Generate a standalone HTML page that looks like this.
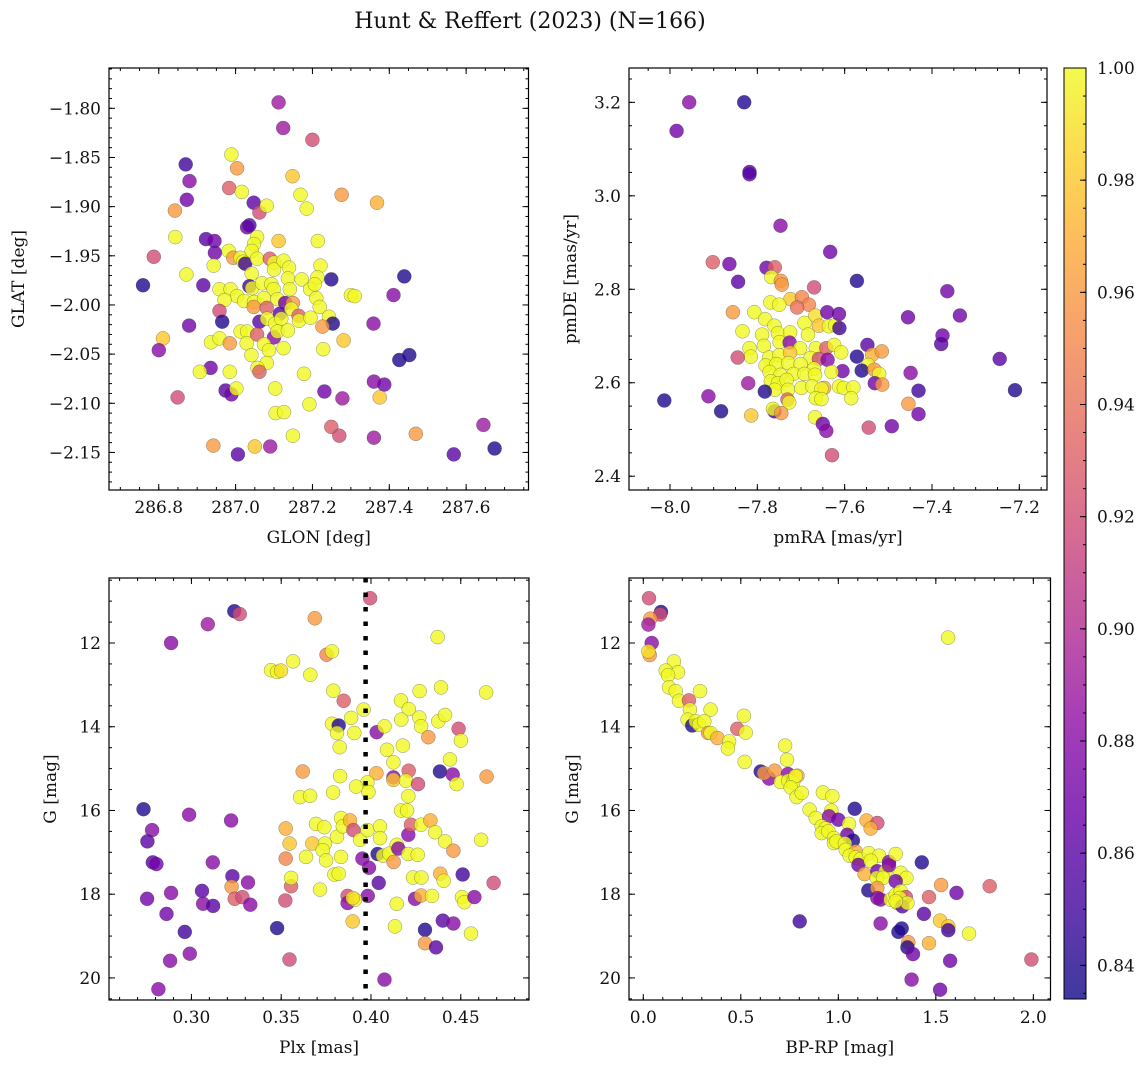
<!DOCTYPE html>
<html><head><meta charset="utf-8">
<style>
html,body{margin:0;padding:0;background:#fff;}
svg{display:block;font-family:"DejaVu Serif","Liberation Serif",serif;}
</style></head>
<body>
<svg id="fig" width="1148" height="1067" viewBox="0 0 1148 1067" xmlns="http://www.w3.org/2000/svg">
<text x="530" y="28" font-size="22" text-anchor="middle" fill="#111">Hunt &amp; Reffert (2023) (N=166)</text>
</svg>
<script>
// ---------- data ----------
const glon = [287.112,287.124,287.200,286.870,286.880,286.873,286.842,286.989,287.004,286.983,287.016,287.047,287.062,287.081,287.148,287.169,287.185,287.276,287.368,287.030,287.036,286.843,286.923,286.945,286.946,286.787,286.759,286.872,286.916,286.943,287.056,287.048,287.112,287.214,286.982,286.994,287.013,287.020,287.025,287.042,287.056,287.089,287.100,287.100,287.125,287.139,287.221,287.042,287.136,287.172,287.213,287.249,287.439,287.036,287.043,287.069,287.093,287.099,287.141,287.194,287.206,286.958,286.987,287.004,286.971,287.022,287.048,287.074,287.109,287.129,287.149,287.210,287.300,287.310,287.411,287.047,287.081,287.115,287.145,287.164,287.219,286.958,286.965,287.062,287.082,287.103,287.119,287.165,287.195,287.243,287.253,287.226,287.359,286.879,287.013,287.030,287.056,287.100,287.109,287.136,286.811,286.800,286.936,286.958,286.985,287.029,287.074,287.087,287.125,287.041,287.228,287.281,287.426,287.452,287.081,287.057,287.062,286.935,286.907,286.985,287.178,287.360,287.387,286.974,286.989,287.002,286.849,287.103,287.231,287.278,287.192,287.375,287.104,287.126,287.149,287.249,287.270,287.360,287.469,287.645,287.674,287.568,286.942,287.050,287.090,287.006];
const glat = [-1.794,-1.820,-1.832,-1.857,-1.874,-1.893,-1.904,-1.847,-1.861,-1.881,-1.885,-1.896,-1.906,-1.899,-1.869,-1.888,-1.902,-1.888,-1.896,-1.921,-1.919,-1.931,-1.933,-1.935,-1.947,-1.951,-1.980,-1.969,-1.980,-1.960,-1.931,-1.938,-1.935,-1.935,-1.945,-1.952,-1.952,-1.956,-1.958,-1.945,-1.953,-1.953,-1.957,-1.964,-1.955,-1.962,-1.960,-1.968,-1.973,-1.974,-1.972,-1.974,-1.971,-1.981,-1.983,-1.978,-1.979,-1.984,-1.984,-1.984,-1.979,-1.984,-1.984,-1.991,-1.995,-1.996,-1.997,-1.993,-1.994,-1.998,-1.998,-1.993,-1.990,-1.991,-1.990,-2.002,-2.003,-2.009,-2.004,-2.011,-2.002,-2.006,-2.017,-2.017,-2.014,-2.019,-2.014,-2.016,-2.013,-2.012,-2.019,-2.022,-2.019,-2.021,-2.027,-2.027,-2.030,-2.033,-2.027,-2.026,-2.034,-2.046,-2.038,-2.034,-2.039,-2.039,-2.040,-2.046,-2.044,-2.051,-2.045,-2.036,-2.056,-2.051,-2.059,-2.064,-2.068,-2.064,-2.068,-2.068,-2.070,-2.078,-2.081,-2.087,-2.091,-2.085,-2.094,-2.085,-2.088,-2.095,-2.101,-2.094,-2.110,-2.109,-2.133,-2.124,-2.133,-2.135,-2.131,-2.122,-2.146,-2.152,-2.143,-2.144,-2.144,-2.152];
const prob1 = [.89,.89,.92,.85,.88,.87,.96,1,.96,.93,1,.86,.92,1,.98,1,1,.96,.97,.87,.86,1,.86,.87,.87,.92,.84,1,.86,1,1,1,.98,1,1,.96,1,1,.85,1,1,.93,1,1,1,1,1,1,1,1,1,.84,.84,.85,1,1,1,1,1,1,1,1,1,1,1,1,1,1,1,.87,.96,1,1,1,.88,.96,.93,.86,1,.93,1,.92,.84,.86,1,1,1,1,1,1,.84,.96,.88,.87,1,1,.93,.88,1,1,.98,.88,1,1,.96,1,1,1,1,1,1,.98,.84,.84,1,1,.93,.87,1,1,1,.88,.87,.86,.87,1,.92,1,.87,.89,1,.98,1,1,1,.93,.92,.89,.96,.89,.84,.86,.96,.98,.89,.86];

const pmra = [-7.956,-7.830,-7.985,-7.818,-7.818,-7.747,-7.633,-7.902,-7.864,-7.844,-7.779,-7.760,-7.768,-7.746,-7.744,-7.670,-7.572,-7.365,-7.336,-7.455,-7.376,-7.379,-7.245,-7.210,-7.724,-7.698,-7.682,-7.709,-7.770,-7.750,-7.856,-7.807,-7.782,-7.761,-7.753,-7.725,-7.692,-7.667,-7.659,-7.636,-7.622,-7.640,-7.613,-7.612,-7.834,-7.789,-7.684,-7.785,-7.749,-7.726,-7.702,-7.666,-7.642,-7.624,-7.608,-7.548,-7.537,-7.515,-7.572,-7.818,-7.815,-7.845,-7.773,-7.750,-7.725,-7.678,-7.659,-7.639,-7.781,-7.756,-7.729,-7.701,-7.670,-7.546,-7.561,-7.532,-7.605,-7.630,-7.521,-7.772,-7.747,-7.717,-7.692,-7.668,-7.449,-7.769,-7.753,-7.733,-7.821,-7.760,-7.730,-7.699,-7.674,-7.647,-7.653,-7.613,-7.602,-7.580,-7.531,-7.514,-7.783,-7.431,-7.666,-7.653,-7.585,-7.731,-7.727,-7.912,-8.013,-7.883,-7.814,-7.761,-7.764,-7.745,-7.454,-7.431,-7.668,-7.650,-7.642,-7.545,-7.492,-7.629];
const pmde = [3.200,3.200,3.139,3.051,3.046,2.936,2.880,2.858,2.854,2.816,2.846,2.847,2.826,2.818,2.810,2.804,2.818,2.796,2.744,2.740,2.701,2.683,2.651,2.584,2.779,2.783,2.767,2.761,2.772,2.767,2.751,2.751,2.736,2.722,2.706,2.708,2.728,2.744,2.722,2.721,2.723,2.751,2.747,2.717,2.710,2.703,2.703,2.679,2.687,2.686,2.674,2.674,2.674,2.681,2.665,2.681,2.660,2.667,2.656,2.674,2.656,2.654,2.654,2.659,2.664,2.653,2.651,2.649,2.637,2.640,2.642,2.640,2.630,2.638,2.626,2.628,2.625,2.623,2.619,2.623,2.617,2.619,2.619,2.617,2.621,2.603,2.599,2.606,2.599,2.585,2.585,2.589,2.592,2.589,2.587,2.592,2.589,2.590,2.599,2.596,2.581,2.583,2.567,2.565,2.567,2.564,2.558,2.571,2.562,2.539,2.530,2.539,2.544,2.535,2.555,2.533,2.526,2.512,2.497,2.504,2.507,2.445];
const prob2 = [.88,.84,.87,.86,.86,.88,.87,.93,.87,.86,.87,.93,1,.96,.96,.92,.84,.87,.87,.87,.87,.86,.86,.84,.98,.95,.95,.94,1,1,.96,1,1,1,1,1,1,.99,.98,1,1,.87,.87,.85,1,1,1,1,1,.88,1,1,.93,1,1,.86,.97,.96,.84,1,1,.92,1,1,.98,1,.92,.88,1,1,1,1,1,1,.84,.96,.87,1,1,1,1,1,1,1,.88,1,1,1,.89,1,1,1,1,.97,1,1,1,1,.87,.96,.84,.85,1,1,1,.93,1,.88,.84,.84,.98,.85,1,.96,.96,.87,1,.87,.88,.92,.87,.92];

const plx = [0.3995,0.3239,0.3269,0.3091,0.2887,0.3687,0.3753,0.3783,0.3443,0.3477,0.3499,0.3566,0.3662,0.4371,0.3790,0.3848,0.3959,0.4390,0.4271,0.4641,0.4167,0.4210,0.4169,0.4269,0.4279,0.4375,0.4412,0.4488,0.4501,0.4319,0.3783,0.3820,0.3811,0.3889,0.3907,0.4032,0.4075,0.3826,0.4089,0.4177,0.4125,0.4440,0.3620,0.4030,0.4210,0.4384,0.4455,0.4644,0.4125,0.4125,0.4195,0.4262,0.4477,0.3828,0.3980,0.3917,0.3986,0.3789,0.3605,0.3661,0.4208,0.4167,0.4201,0.2733,0.2987,0.3221,0.2781,0.2755,0.2785,0.2805,0.3119,0.2753,0.2887,0.2861,0.2963,0.2991,0.2881,0.2816,0.3059,0.3065,0.3121,0.3228,0.3224,0.3241,0.3284,0.3315,0.3328,0.3477,0.3523,0.3546,0.3555,0.3555,0.3525,0.3547,0.3525,0.3638,0.3674,0.3694,0.3740,0.3744,0.3731,0.3750,0.3796,0.3820,0.3716,0.3811,0.3833,0.3843,0.3883,0.3902,0.3939,0.3833,0.3952,0.3989,0.3980,0.4050,0.4050,0.4037,0.4067,0.4102,0.4143,0.4152,0.4126,0.4208,0.4260,0.4208,0.4223,0.4279,0.4331,0.4357,0.4412,0.4459,0.4613,0.4386,0.4405,0.4511,0.4683,0.4234,0.4281,0.4043,0.3982,0.3870,0.3870,0.3911,0.3898,0.4143,0.4245,0.4279,0.4340,0.4507,0.4520,0.4576,0.3898,0.4134,0.4301,0.4400,0.4459,0.4301,0.4362,0.4557,0.4075];
const gmag3 = [10.93,11.24,11.31,11.55,12.00,11.41,12.28,12.20,12.65,12.69,12.66,12.44,12.76,11.86,13.14,13.38,13.59,13.06,13.15,13.18,13.37,13.58,13.83,13.78,13.99,13.87,13.72,14.05,14.33,14.25,13.93,13.97,14.15,13.79,14.15,14.13,13.99,14.49,14.55,14.45,14.85,14.78,15.07,15.11,15.05,15.07,15.14,15.19,15.21,15.27,15.29,15.37,15.37,15.18,15.33,15.43,15.56,15.57,15.68,15.65,15.66,16.00,16.00,15.97,16.10,16.24,16.47,16.74,17.24,17.28,17.24,18.11,17.97,18.47,18.90,19.42,19.59,20.27,17.92,18.23,18.28,17.57,17.82,18.11,18.07,17.72,18.25,18.81,18.15,19.56,17.81,17.61,16.43,16.79,17.15,17.11,16.79,16.32,16.40,16.79,16.95,17.19,17.53,17.51,17.89,16.63,16.18,16.38,16.24,16.47,16.70,17.11,17.15,17.37,16.47,16.38,16.66,17.04,17.08,17.03,16.82,16.91,17.23,17.04,17.06,16.58,16.34,16.34,16.24,16.52,16.74,16.96,16.70,17.51,17.68,17.53,17.73,17.60,17.60,17.73,18.04,18.04,18.21,18.13,18.09,18.23,18.11,18.03,18.04,18.07,18.19,18.07,18.65,18.77,18.85,18.63,18.70,19.17,19.27,18.94,20.04];
const prob3 = [.92,.84,.92,.89,.88,.96,.95,1,1,1,.99,1,1,1,1,.93,1,1,1,1,1,1,1,1,1,1,1,.92,1,.96,1,.84,1,1,1,.88,1,1,1,1,1,1,.96,.97,.93,.84,.88,.96,.88,.98,1,.92,1,1,1,1,1,1,1,1,1,1,1,.84,.88,.88,.88,.86,.86,.87,.88,.87,.88,.87,.85,.88,.88,.88,.86,.88,.86,.86,.96,.93,.92,.88,.88,.84,.92,.92,.93,1,.97,.98,.95,1,.98,1,1,1,1,1,1,1,1,1,1,1,.97,.92,1,1,.88,.88,1,1,1,.84,1,1,1,.88,.96,1,1,.88,.93,1,.97,1,1,.96,1,.97,1,.85,.92,1,1,.86,.88,.92,.88,1,.99,1,.88,.97,1,1,1,.88,.98,1,.84,.86,.88,.96,.86,1,.88];
const plxCut = [0.397];

const bprp = [0.029,0.091,0.086,0.036,0.026,0.043,0.033,0.026,0.157,0.115,0.178,0.127,0.132,0.166,0.183,0.291,0.234,0.239,0.345,0.516,0.227,0.251,0.269,0.286,0.313,0.333,0.345,0.380,0.440,0.434,0.482,0.525,0.520,0.727,0.737,0.602,0.645,0.619,0.674,0.742,0.790,0.705,0.744,0.768,0.781,0.756,0.786,0.812,0.921,0.969,0.853,1.084,0.884,0.964,0.952,1.000,1.145,1.200,1.166,1.055,0.915,0.935,0.915,0.949,1.046,1.075,0.978,0.978,0.990,1.034,1.038,1.089,1.058,1.089,1.115,1.103,1.157,1.209,1.260,1.294,1.166,1.428,1.135,1.200,1.243,1.260,1.197,1.229,1.320,1.349,1.294,1.154,1.200,1.200,1.217,1.268,1.294,1.320,1.346,1.315,1.303,1.328,1.354,1.294,1.465,1.527,1.606,1.776,1.439,0.802,1.217,1.522,1.564,1.564,1.670,1.325,1.308,1.359,1.354,1.383,1.465,1.573,1.990,1.376,1.522,1.563];
const gmag4 = [10.93,11.26,11.32,11.42,11.56,12.00,12.29,12.20,12.44,12.66,12.70,12.77,13.06,13.15,13.38,13.15,13.37,13.59,13.59,13.74,13.83,13.97,13.87,13.95,13.87,14.15,14.15,14.27,14.35,14.52,14.05,14.14,14.84,14.45,14.79,15.07,15.24,15.11,15.05,15.13,15.17,15.32,15.29,15.34,15.18,15.45,15.68,15.58,15.57,15.66,15.98,15.96,16.18,16.00,16.14,16.22,16.24,16.30,16.43,16.32,16.38,16.43,16.54,16.50,16.58,16.72,16.66,16.78,16.74,16.79,16.94,16.98,17.08,17.12,17.16,17.30,17.02,17.08,17.23,17.04,17.20,17.24,17.52,17.45,17.45,17.31,17.61,17.61,17.49,17.61,17.69,17.91,17.85,18.09,18.13,18.13,18.01,17.93,18.07,18.09,18.21,18.29,18.21,18.17,18.07,17.78,17.97,17.81,18.47,18.65,18.70,18.63,18.77,18.86,18.94,18.82,18.90,19.15,19.27,19.43,19.17,19.59,19.56,20.04,20.28,11.87];
const prob4 = [.92,.84,.92,.96,.89,.88,.96,.99,1,1,1,1,1,1,1,1,.93,1,1,1,1,.84,1,1,1,.96,1,.97,1,1,.93,1,1,1,1,.84,.88,.96,.96,.88,.97,1,1,1,1,1,1,1,1,1,1,.84,1,1,.88,.87,.97,.92,.97,1,1,1,1,1,.87,.84,1,1,1,1,1,.97,1,1,1,.87,1,1,.88,1,1,.84,.97,.87,1,.88,1,1,1,1,.87,.84,.96,.88,.88,1,1,1,.92,1,1,.86,1,1,.93,.96,.87,.93,.86,.85,.88,.98,.98,.85,1,.84,.84,.96,.84,.87,.97,.87,.92,.88,.87,1];

// tick values
const glonTicks = [286.8,287.0,287.2,287.4,287.6];
const glatTicks = [-1.80,-1.85,-1.90,-1.95,-2.00,-2.05,-2.10,-2.15];
const pmraTicks = [-8.0,-7.8,-7.6,-7.4,-7.2];
const pmdeTicks = [2.4,2.6,2.8,3.0,3.2];
const plxTicks = [0.30,0.35,0.40,0.45];
const gTicks = [12,14,16,18,20];
const bprpTicks = [0.0,0.5,1.0,1.5,2.0];
const cbarTicks = [0.84,0.86,0.88,0.90,0.92,0.94,0.96,0.98,1.00];

// ---------- drawing ----------
const NS = "http://www.w3.org/2000/svg";
const svg = document.getElementById('fig');
const VMIN = 0.834, VMAX = 1.0;
const plasma = [[13,8,135],[65,4,157],[106,0,168],[143,13,164],[177,42,144],[204,71,120],[225,100,98],[242,132,75],[252,166,54],[252,206,37],[240,249,33]];
function cmap(v){
  let t = (v-VMIN)/(VMAX-VMIN); t=Math.max(0,Math.min(1,t));
  const f=t*10, i=Math.min(9,Math.floor(f)), r=f-i;
  const a=plasma[i], b=plasma[i+1];
  return 'rgb('+a.map((c,k)=>Math.round(c+(b[k]-c)*r)).join(',')+')';
}
function el(tag, attrs, parent){
  const e=document.createElementNS(NS,tag);
  for(const k in attrs) e.setAttribute(k,attrs[k]);
  (parent||svg).appendChild(e); return e;
}
function fmtMinus(s){ return s.replace('-','\u2212'); }

// o.invert: magnitude axis (ymin drawn at top)
function panel(o){
  const g = el('g',{});
  
  
  const sx = v => o.x0 + (v-o.xmin)/(o.xmax-o.xmin)*(o.x1-o.x0);
  const sy = o.invert ? (v => o.y0 + (v-o.ymin)/(o.ymax-o.ymin)*(o.y1-o.y0))
                      : (v => o.y0 + (o.ymax-v)/(o.ymax-o.ymin)*(o.y1-o.y0));
  const pg = el('g',{},g);
  
  
  const n = Math.min(o.xs.length, o.ys.length, o.ps.length);
  for(let i=0;i<n;i++){
    const c = el('circle',{cx:sx(o.xs[i]).toFixed(1), cy:sy(o.ys[i]).toFixed(1), r:7, fill:cmap(o.ps[i]), 'fill-opacity':0.8, stroke:'rgba(60,60,60,0.55)', 'stroke-width':0.5}, pg);
    
    
  }
  if(o.vline){
    const l = el('line',{x1:sx(o.vline[0]),x2:sx(o.vline[0]),y1:o.y0,y2:o.y1,stroke:'#000','stroke-width':4.5,'stroke-dasharray':'4.5 10'},g);
    
    
  }
  const fr = el('rect',{x:o.x0,y:o.y0,width:o.x1-o.x0,height:o.y1-o.y0,fill:'none',stroke:'#000','stroke-width':1.2},g);
  
  
  const tg = el('g',{stroke:'#000','stroke-width':1},g);
  for(let v=Math.ceil(o.xmin/o.xminor-1e-9)*o.xminor; v<=o.xmax+1e-9; v+=o.xminor){
    const x=sx(v);
    el('line',{x1:x,x2:x,y1:o.y1,y2:o.y1-3},tg); el('line',{x1:x,x2:x,y1:o.y0,y2:o.y0+3},tg);
  }
  for(let v=Math.ceil(o.ymin/o.yminor-1e-9)*o.yminor; v<=o.ymax+1e-9; v+=o.yminor){
    const y=sy(v);
    el('line',{x1:o.x0,x2:o.x0+3,y1:y,y2:y},tg); el('line',{x1:o.x1,x2:o.x1-3,y1:y,y2:y},tg);
  }
  o.xticks.forEach(v=>{
    const x=sx(v);
    el('line',{x1:x,x2:x,y1:o.y1,y2:o.y1-6},tg); el('line',{x1:x,x2:x,y1:o.y0,y2:o.y0+6},tg);
    const t=el('text',{x:x,y:o.y1+23,'font-size':17,'text-anchor':'middle',fill:'#111'},g);
    t.textContent=fmtMinus(v.toFixed(o.xdec));
    
    
  });
  o.yticks.forEach(v=>{
    const y=sy(v);
    el('line',{x1:o.x0,x2:o.x0+6,y1:y,y2:y},tg); el('line',{x1:o.x1,x2:o.x1-6,y1:y,y2:y},tg);
    const t=el('text',{x:o.x0-8,y:y+6,'font-size':17,'text-anchor':'end',fill:'#111'},g);
    t.textContent=fmtMinus(v.toFixed(o.ydec));
    
    
  });
  const xl=el('text',{x:(o.x0+o.x1)/2,y:o.y1+53,'font-size':17,'text-anchor':'middle',fill:'#111'},g);
  xl.textContent=o.xlabel;
  
  
  const yc=(o.y0+o.y1)/2;
  const yl=el('text',{x:o.ylx+6,y:yc,'font-size':17,'text-anchor':'middle',fill:'#111',transform:'rotate(-90 '+(o.ylx+6)+' '+yc+')'},g);
  yl.textContent=o.ylabel;
  
  
}

panel({name:'glon-glat-panel',x0:109,x1:528.5,y0:68,y1:490,xmin:286.6705,xmax:287.7623,ymin:-2.1882,ymax:-1.759,
  xs:glon,ys:glat,ps:prob1,xticks:glonTicks,yticks:glatTicks,xminor:0.05,yminor:0.01,xdec:1,ydec:2,
  xlabel:'GLON [deg]',ylabel:'GLAT [deg]',ylx:18});
panel({name:'proper-motion-panel',x0:629,x1:1047,y0:68,y1:490,xmin:-8.0939,xmax:-7.1366,ymin:2.3705,ymax:3.2735,
  xs:pmra,ys:pmde,ps:prob2,xticks:pmraTicks,yticks:pmdeTicks,xminor:0.05,yminor:0.05,xdec:1,ydec:1,
  xlabel:'pmRA [mas/yr]',ylabel:'pmDE [mas/yr]',ylx:570});
panel({name:'parallax-panel',x0:109,x1:529,y0:578,y1:1000,xmin:0.2541,xmax:0.4880,ymin:10.4475,ymax:20.527,invert:true,
  xs:plx,ys:gmag3,ps:prob3,xticks:plxTicks,yticks:gTicks,xminor:0.01,yminor:0.5,xdec:2,ydec:0,
  xlabel:'Plx [mas]',ylabel:'G [mag]',ylx:50,vline:plxCut});
panel({name:'cmd-panel',x0:629,x1:1050.5,y0:578,y1:1000,xmin:-0.0733,xmax:2.088,ymin:10.4475,ymax:20.527,invert:true,
  xs:bprp,ys:gmag4,ps:prob4,xticks:bprpTicks,yticks:gTicks,xminor:0.1,yminor:0.5,xdec:1,ydec:0,
  xlabel:'BP-RP [mag]',ylabel:'G [mag]',ylx:572});

// colorbar
(function(){
  const cb=el('g',{});
  
  
  const defs=el('defs',{},cb);
  const lg=el('linearGradient',{id:'plasmaGrad',x1:0,y1:1,x2:0,y2:0},defs);
  for(let i=0;i<=20;i++){ const v=VMIN+(VMAX-VMIN)*i/20; el('stop',{offset:(i/20),'stop-color':cmap(v),'stop-opacity':0.8},lg); }
  const cx0=1064,cx1=1086,cy0=68,cy1=999;
  const cys=v=>cy1-(v-VMIN)/(VMAX-VMIN)*(cy1-cy0);
  el('rect',{x:cx0,y:cy0,width:cx1-cx0,height:cy1-cy0,fill:'url(#plasmaGrad)',stroke:'#000','stroke-width':1},cb);
  const ctg=el('g',{stroke:'#000','stroke-width':1},cb);
  for(let v=0.835; v<=1.0001; v+=0.005){ const y=cys(v); el('line',{x1:cx1,x2:cx1-3,y1:y,y2:y},ctg); }
  cbarTicks.forEach(v=>{ const y=cys(v); el('line',{x1:cx1,x2:cx1-6,y1:y,y2:y},ctg);
    const t=el('text',{x:cx1+11,y:y+6,'font-size':17,fill:'#111'},cb); t.textContent=v.toFixed(2);
    
     });
})();
</script>
</body></html>
